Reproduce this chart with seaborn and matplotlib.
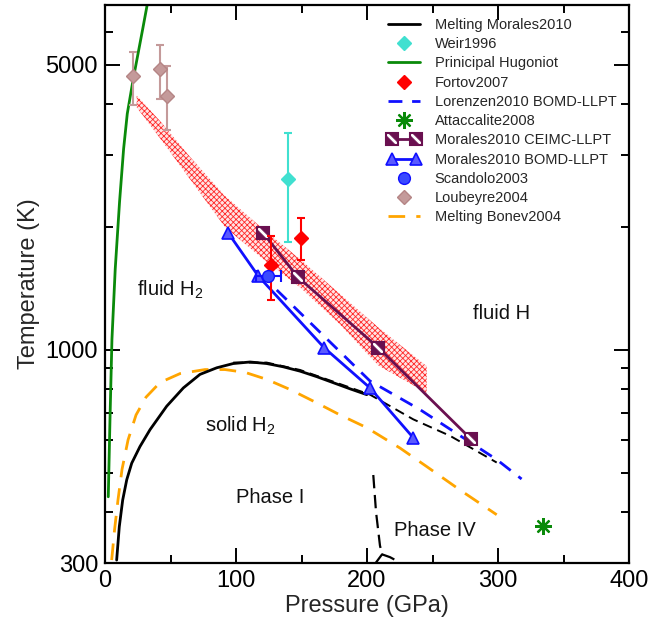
import numpy as np
import pandas as pd
import matplotlib
matplotlib.use('Agg')
import matplotlib.pyplot as plt
import seaborn as sns
from matplotlib.lines import Line2D
from matplotlib.path import Path
from matplotlib.legend_handler import HandlerLine2D
from matplotlib.ticker import FixedLocator, NullFormatter, MultipleLocator, FuncFormatter

# ---------------- data (Pressure in GPa, Temperature in K) ----------------
hug_P = [2.5, 3.8, 5.3, 7.8, 11.1, 14.2, 17.0, 21.6, 28.8, 32.4]
hug_T = [436, 674, 1060, 1576, 2302, 3106, 3789, 4618, 6117, 7063]

band_P = [24.2, 42.0, 64.9, 91.6, 120.8, 148.9, 179.4, 208.6, 245.6]
band_hi = [4200, 3637, 2970, 2382, 1974, 1667, 1369, 1134, 911]
band_lo = [3929, 3300, 2618, 1998, 1667, 1422, 1153, 915, 784]

ceimc_P = [120.8, 147.1, 208.6, 279.1]
ceimc_T = [1932, 1508, 1012, 605]

bomd_P = [94.1, 117.0, 167.2, 202.3, 235.4]
bomd_T = [1932, 1516, 1012, 806, 608]

lor_P = [131.1, 202.3, 240.5, 299.0, 318.0]
lor_T = [1401, 838, 713, 538, 482]

melt_P = [8.9, 10.9, 13.5, 16.6, 20.4, 26.7, 34.4, 47.1, 59.8, 72.5, 85.3, 97.9,
          110.7, 123.4, 136.1, 148.9, 161.6, 174.3, 187.0, 199.8]
melt_T = [305, 368, 428, 480, 527, 579, 637, 727, 806, 870, 903, 925,
          933, 925, 908, 886, 859, 830, 802, 776]

meltd_P = [97.9, 123.4, 148.9, 174.3, 202.3, 235.3, 263.4, 299.0]
meltd_T = [930, 930, 892, 835, 776, 675, 615, 529]

bonev_P = [5.1, 7.3, 9.9, 13.0, 17.6, 23.7, 31.3, 42.0, 57.3, 76.3, 91.6, 106.9,
           123.4, 141.2, 161.6, 179.4, 199.8, 225.2, 245.6, 271.0, 299.0]
bonev_T = [305, 362, 428, 509, 601, 692, 765, 831, 874, 894, 894, 880,
           846, 799, 741, 692, 644, 574, 517, 453, 394]

ph4_P = [204.8, 206.9, 209.9, 211.5]
ph4_T = [493, 400, 331, 315]
ph4l_P = [211.5, 206.6]
ph4l_T = [315, 300]
ph4r_P = [211.5, 217.6, 225.0]
ph4r_T = [315, 310, 301]

weir_P = [139.9]
weir_T = [2618]
weir_lo = [2618 - 1838]
weir_hi = [3396 - 2618]

fortov_P = [149.6, 126.7]
fortov_T = [1879, 1614]
fortov_lo = [1879 - 1656, 1614 - 1322]
fortov_hi = [2100 - 1879, 1897 - 1614]

scand_P = [124.7]
scand_T = [1516]
scand_xerr = [9.5]

loub_P = [21.6, 42.0, 47.0]
loub_T = [4680, 4886, 4185]
loub_lo = [4680 - 3973, 4886 - 4124, 4185 - 3459]
loub_hi = [5380 - 4680, 5600 - 4886, 4951 - 4185]

att_P = [334.0]
att_T = [369]

y_ticks = [300, 1000, 5000]
y_minor = [400, 500, 600, 700, 800, 900, 2000, 3000, 4000, 6000, 7000]

# ---------------- style ----------------
sns.set_theme(style='ticks')
plt.rcParams['font.family'] = ['Liberation Sans', 'DejaVu Sans']
plt.rcParams['mathtext.fontset'] = 'custom'
plt.rcParams['mathtext.rm'] = 'Liberation Sans'
plt.rcParams['mathtext.it'] = 'Liberation Sans:italic'
plt.rcParams['hatch.linewidth'] = 0.6
plt.rcParams['hatch.color'] = '#ff2a2a'

PURPLE = '#6a1050'
BLUE = '#1010ff'
GREEN = '#0a8a0a'
TURQ = '#40e0d0'
ROSY = '#c49a9a'
ORANGE = '#ffa500'

fig = plt.figure(figsize=(6.49, 6.20), dpi=100)
ax = fig.add_axes([105 / 649, 1 - 563 / 620, 524 / 649, 558 / 620])
ax.set_yscale('log')

# band
ax.fill_between(band_P, band_lo, band_hi, facecolor='#ffe4e4', edgecolor='#ff2a2a',
                hatch='xxxxxx', linewidth=0, zorder=1)

def line(P, T, color, lw=1.8, ls='-', z=2, **kw):
    sns.lineplot(x=P, y=T, ax=ax, color=color, lw=lw, linestyle=ls, sort=False,
                 estimator=None, zorder=z, legend=False, **kw)

line(hug_P, hug_T, GREEN, lw=2.0)
line(bonev_P, bonev_T, ORANGE, lw=2.0, ls=(0, (6, 4)))
line(meltd_P, meltd_T, 'black', lw=1.4, ls=(0, (5, 3)))
line(melt_P, melt_T, 'black', lw=2.0)
line(ph4_P, ph4_T, 'black', lw=1.6, ls=(0, (6, 3)))
line(ph4l_P, ph4l_T, 'black', lw=1.6)
line(ph4r_P, ph4r_T, 'black', lw=1.6, ls=(0, (6, 3)))
line(lor_P, lor_T, BLUE, lw=2.0, ls=(0, (5, 3.5)))
line(bomd_P, bomd_T, BLUE, lw=2.0, marker='^', markersize=8, markerfacecolor='#5a5aff',
     markeredgecolor=BLUE, markeredgewidth=1.2)
line(ceimc_P, ceimc_T, PURPLE, lw=2.0)

# half-filled square marker overlay (two corner triangles)
tri_path = Path([(-1, -1), (0.55, -1), (-1, 0.55), (-1, -1),
                 (1, 1), (-0.55, 1), (1, -0.55), (1, 1)],
                [Path.MOVETO, Path.LINETO, Path.LINETO, Path.CLOSEPOLY,
                 Path.MOVETO, Path.LINETO, Path.LINETO, Path.CLOSEPOLY])
sq_kw = dict(marker='s', ms=8, mfc='white', mec=PURPLE, mew=1.5, ls='none')
tr_kw = dict(marker=tri_path, ms=8, mfc=PURPLE, mec=PURPLE, mew=0.5, ls='none')
ax.plot(ceimc_P, ceimc_T, zorder=4, **sq_kw)
ax.plot(ceimc_P, ceimc_T, zorder=5, **tr_kw)

# data points with error bars
ax.errorbar(weir_P, weir_T, yerr=[weir_lo, weir_hi], fmt='D', color=TURQ, ms=7.5,
            capsize=3, elinewidth=1.5, capthick=1.5, zorder=6)
ax.errorbar(fortov_P, fortov_T, yerr=[fortov_lo, fortov_hi], fmt='D', color='red', ms=7.5,
            capsize=3, elinewidth=1.5, capthick=1.5, zorder=6)
ax.errorbar(loub_P, loub_T, yerr=[loub_lo, loub_hi], fmt='D', color=ROSY, ms=7,
            mec='#b58585', capsize=3, elinewidth=1.5, capthick=1.5, zorder=6)
ax.errorbar(scand_P, scand_T, xerr=[scand_xerr, scand_xerr], fmt='o', color=BLUE, ms=8.5,
            mfc='#3a4aff', capsize=4, elinewidth=1.5, capthick=1.5, zorder=6)
ax.plot(att_P, att_T, ls='none', marker=(8, 2, 0), ms=12, mew=1.6, color=GREEN, zorder=6)

# text labels
tkw = dict(fontsize=14.5, ha='center', va='center', color='#111111')
ax.text(50, 1400, r'fluid H$_\mathrm{2}$', **tkw)
ax.text(303, 1225, 'fluid H', **tkw)
ax.text(103, 652, r'solid H$_\mathrm{2}$', **tkw)
ax.text(126, 434, 'Phase I', **tkw)
ax.text(252, 360, 'Phase IV', **tkw)

# axes
ax.set_xlim(0, 400)
ax.set_ylim(300, 7000)
ax.xaxis.set_major_locator(MultipleLocator(100))
ax.xaxis.set_minor_locator(MultipleLocator(50))
ax.yaxis.set_major_locator(FixedLocator(y_ticks))
ax.yaxis.set_major_formatter(FuncFormatter(lambda v, p: f'{int(round(v))}'))
ax.yaxis.set_minor_locator(FixedLocator(y_minor))
ax.yaxis.set_minor_formatter(NullFormatter())
ax.tick_params(which='both', direction='in', top=True, right=True, width=1.4,
               colors='black', labelsize=17, pad=5)
ax.tick_params(which='major', length=11)
ax.tick_params(which='minor', length=6)
for s in ax.spines.values():
    s.set_linewidth(1.6)
    s.set_color('black')
ax.set_xlabel('Pressure (GPa)', fontsize=17, labelpad=2)
ax.set_ylabel('Temperature (K)', fontsize=17, labelpad=4)

# legend
h_melt = Line2D([], [], color='black', lw=2)
h_weir = Line2D([], [], color=TURQ, marker='D', ms=7.5, ls='none')
h_hug = Line2D([], [], color=GREEN, lw=2)
h_fort = Line2D([], [], color='red', marker='D', ms=7.5, ls='none')
h_lor = Line2D([], [], color=BLUE, lw=2, ls=(0, (5, 3.5)))
h_att = Line2D([], [], color=GREEN, marker=(8, 2, 0), ms=12, mew=1.6, ls='none')
h_ce1 = Line2D([], [], color=PURPLE, lw=2, **{k: v for k, v in sq_kw.items() if k != 'ls'})
h_ce2 = Line2D([], [], **tr_kw)
h_bo = Line2D([], [], color=BLUE, lw=2, marker='^', ms=8, mfc='#5a5aff', mec=BLUE, mew=1.2)
h_sc = Line2D([], [], color=BLUE, marker='o', ms=8.5, mfc='#3a4aff', ls='none')
h_lo = Line2D([], [], color=ROSY, marker='D', ms=7, mec='#b58585', ls='none')
h_bon = Line2D([], [], color=ORANGE, lw=2, ls=(0, (6, 4)))

handles = [h_melt, h_weir, h_hug, h_fort, h_lor, h_att, (h_ce1, h_ce2), h_bo, h_sc, h_lo, h_bon]
labels = ['Melting Morales2010', 'Weir1996', 'Prinicipal Hugoniot', 'Fortov2007',
          'Lorenzen2010 BOMD-LLPT', 'Attaccalite2008', 'Morales2010 CEIMC-LLPT',
          'Morales2010 BOMD-LLPT', 'Scandolo2003', 'Loubeyre2004', 'Melting Bonev2004']
hm = {h_ce1: HandlerLine2D(numpoints=2), h_ce2: HandlerLine2D(numpoints=2),
      h_bo: HandlerLine2D(numpoints=2)}
ax.legend(handles, labels, handler_map=hm, loc='upper left', frameon=False,
          bbox_to_anchor=(388 / 649, 1 - 18 / 620), bbox_transform=fig.transFigure,
          fontsize=10.5, numpoints=1, handlelength=2.2, handletextpad=1.0,
          labelspacing=0.36, borderpad=0, borderaxespad=0)

fig.savefig('out.png', dpi=100)
